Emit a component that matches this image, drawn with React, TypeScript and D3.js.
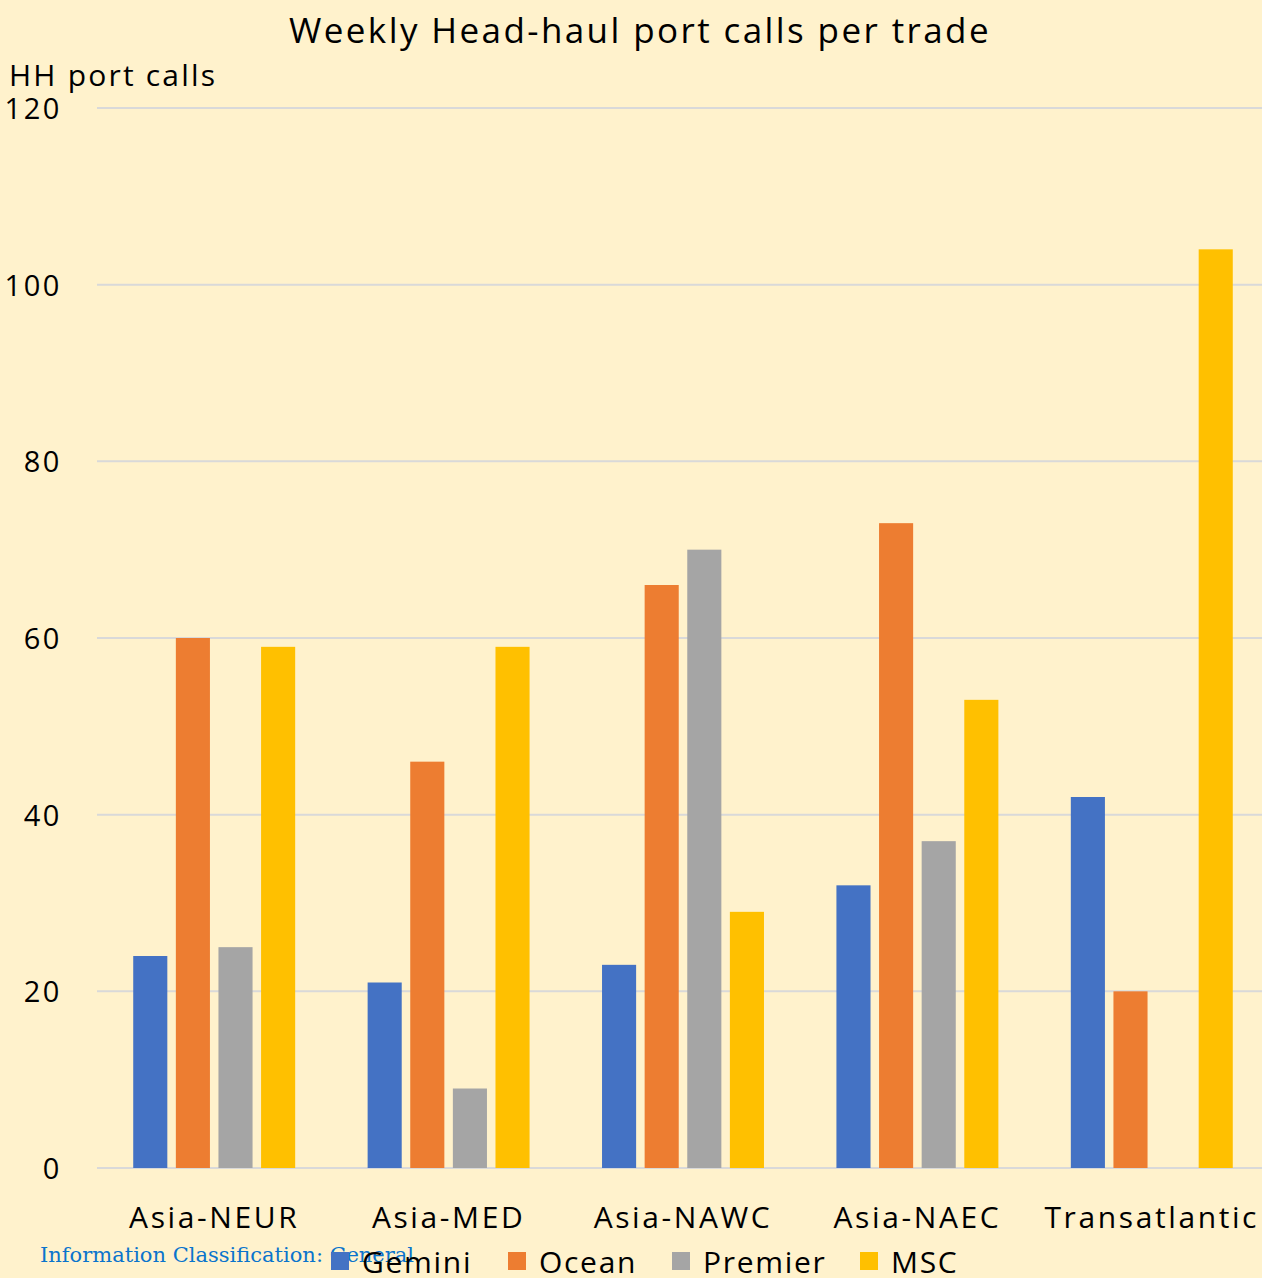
import React from "react";
import * as d3 from "d3";

const categories = ["Asia-NEUR", "Asia-MED", "Asia-NAWC", "Asia-NAEC", "Transatlantic"];
const seriesNames = ["Gemini", "Ocean", "Premier", "MSC"];
const gemini = [24, 21, 23, 32, 42];
const ocean = [60, 46, 66, 73, 20];
const premier = [25, 9, 70, 37, 0];
const msc = [59, 59, 29, 53, 104];
const yTicks = [0, 20, 40, 60, 80, 100, 120];
const colors = ["#4472c4", "#ed7d31", "#a5a5a5", "#ffc000"];

const W = 1262;
const H = 1278;
const FONT = "'Open Sans', 'Noto Sans', sans-serif";

export default function App() {
  React.useEffect(() => {
    document.body.style.margin = "0";
  }, []);
  const seriesValues = [gemini, ocean, premier, msc];
  const x = d3.scaleBand<string>().domain(categories).range([97, 1269]).padding(0);
  const inner = d3
    .scaleBand<string>()
    .domain(seriesNames)
    .range([0, x.bandwidth()])
    .paddingInner(0.2)
    .paddingOuter(0.85);
  const y = d3.scaleLinear().domain([0, 120]).range([1168, 108]);

  const legendX = [331, 508, 672, 860];

  return (
    <svg width={W} height={H} style={{ display: "block", position: "absolute", left: 0, top: 0 }} fontFamily={FONT}>
      <rect x={0} y={0} width={W} height={H} fill="#fff2cc" />
      <text x={640} y={43} textAnchor="middle" fontSize={35} letterSpacing={2.4} fill="#000">
        Weekly Head-haul port calls per trade
      </text>
      <text x={9} y={86} fontSize={30} letterSpacing={2.2} fill="#000">
        HH port calls
      </text>
      {yTicks.map((t) => (
        <g key={t}>
          <line x1={97} x2={W} y1={y(t)} y2={y(t)} stroke="#d9d9d9" strokeWidth={2} />
          <text x={62} y={y(t) + 11} textAnchor="end" fontSize={29} letterSpacing={2.6} fill="#000">
            {t}
          </text>
        </g>
      ))}
      {categories.map((c, ci) => (
        <g key={c}>
          {seriesNames.map((s, si) => {
            const v = seriesValues[si][ci];
            if (!v) return null;
            return (
              <rect
                key={s}
                x={(x(c) as number) + (inner(s) as number)}
                y={y(v)}
                width={inner.bandwidth()}
                height={y(0) - y(v)}
                fill={colors[si]}
              />
            );
          })}
          <text
            x={(x(c) as number) + x.bandwidth() / 2}
            y={1228}
            textAnchor="middle"
            fontSize={30}
            letterSpacing={2.6}
            fill="#000"
          >
            {c}
          </text>
        </g>
      ))}
      <text x={40} y={1262} fontSize={21} fill="#0a74cc" fontFamily="'DejaVu Serif', 'Liberation Serif', serif">
        Information Classification: General
      </text>
      {seriesNames.map((s, i) => (
        <g key={s}>
          <rect x={legendX[i]} y={1252} width={18} height={18} fill={colors[i]} />
          <text x={legendX[i] + 31} y={1273} fontSize={30} letterSpacing={1.7} fill="#000">
            {s}
          </text>
        </g>
      ))}
    </svg>
  );
}
